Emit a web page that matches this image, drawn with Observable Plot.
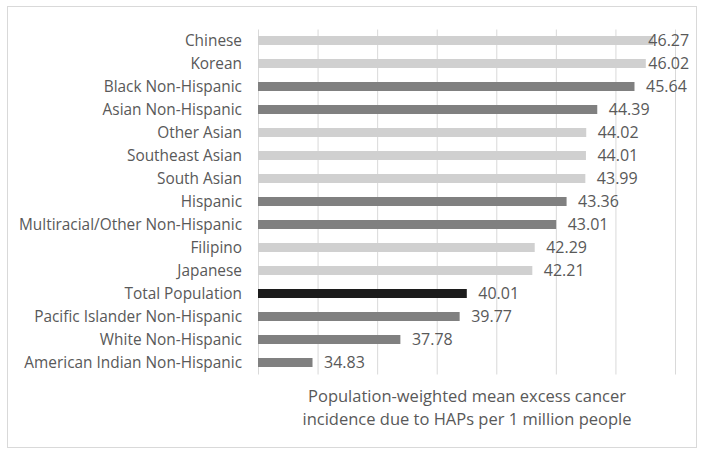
<!DOCTYPE html>
<html>
<head>
<meta charset="utf-8">
<script src="https://cdn.jsdelivr.net/npm/d3@7"></script>
<script src="https://cdn.jsdelivr.net/npm/@observablehq/plot@0.6"></script>
<style>
  html, body { margin: 0; padding: 0; background: #fff; }
  #wrap { position: relative; width: 704px; height: 456px; overflow: hidden; }
  #border { position: absolute; left: 7px; top: 6px; width: 688px; height: 440px; border: 1px solid #d9d9d9; pointer-events: none; }
</style>
</head>
<body>
<div id="wrap"><div id="border"></div></div>
<script>
const categories = ["Chinese","Korean","Black Non-Hispanic","Asian Non-Hispanic","Other Asian","Southeast Asian","South Asian","Hispanic","Multiracial/Other Non-Hispanic","Filipino","Japanese","Total Population","Pacific Islander Non-Hispanic","White Non-Hispanic","American Indian Non-Hispanic"];
const values = [46.27,46.02,45.64,44.39,44.02,44.01,43.99,43.36,43.01,42.29,42.21,40.01,39.77,37.78,34.83];
const groups = ["Asian subgroup","Asian subgroup","Race/ethnicity","Race/ethnicity","Asian subgroup","Asian subgroup","Asian subgroup","Race/ethnicity","Race/ethnicity","Asian subgroup","Asian subgroup","Total","Race/ethnicity","Race/ethnicity","Race/ethnicity"];
const groupNames = ["Asian subgroup","Race/ethnicity","Total"];
const groupColors = ["#d0d0d0","#808080","#1c1c1c"];
const xDomain = [33, 47];
const gridTicks = [33,35,37,39,41,43,45,47];
const labelLimit = 45.72;
const axisTitle = "Population-weighted mean excess cancer\nincidence due to HAPs per 1 million people";

const data = categories.map((c, i) => ({category: c, value: values[i], group: groups[i]}));

const chart = Plot.plot({
  width: 704,
  height: 456,
  marginLeft: 258,
  marginRight: 29,
  marginTop: 29.5,
  marginBottom: 81.5,
  style: {fontFamily: "'Open Sans', sans-serif", fontSize: "15.4px", color: "#595959", background: "transparent"},
  x: {domain: xDomain, axis: null},
  y: {domain: categories, paddingInner: 0.6, paddingOuter: 0.3, axis: null},
  color: {domain: groupNames, range: groupColors},
  marks: [
    Plot.gridX(gridTicks, {stroke: "#d9d9d9", strokeOpacity: 1, strokeWidth: 1}),
    Plot.barX(data, {y: "category", x1: () => xDomain[0], x2: "value", fill: "group"}),
    Plot.text(data, {
      y: "category",
      x: d => Math.min(d.value, labelLimit),
      text: d => d.value.toFixed(2),
      textAnchor: "start",
      dx: 11,
      fontSize: 16,
      fill: "#595959"
    }),
    Plot.axisY({tickSize: 0, tickPadding: 16.5, fontSize: 15.4, label: null}),
    Plot.text([axisTitle], {
      frameAnchor: "bottom",
      lineAnchor: "top",
      dy: 10,
      lineHeight: 1.43,
      fontSize: 16.5,
      fill: "#595959"
    })
  ]
});
document.getElementById("wrap").prepend(chart);
</script>
</body>
</html>
